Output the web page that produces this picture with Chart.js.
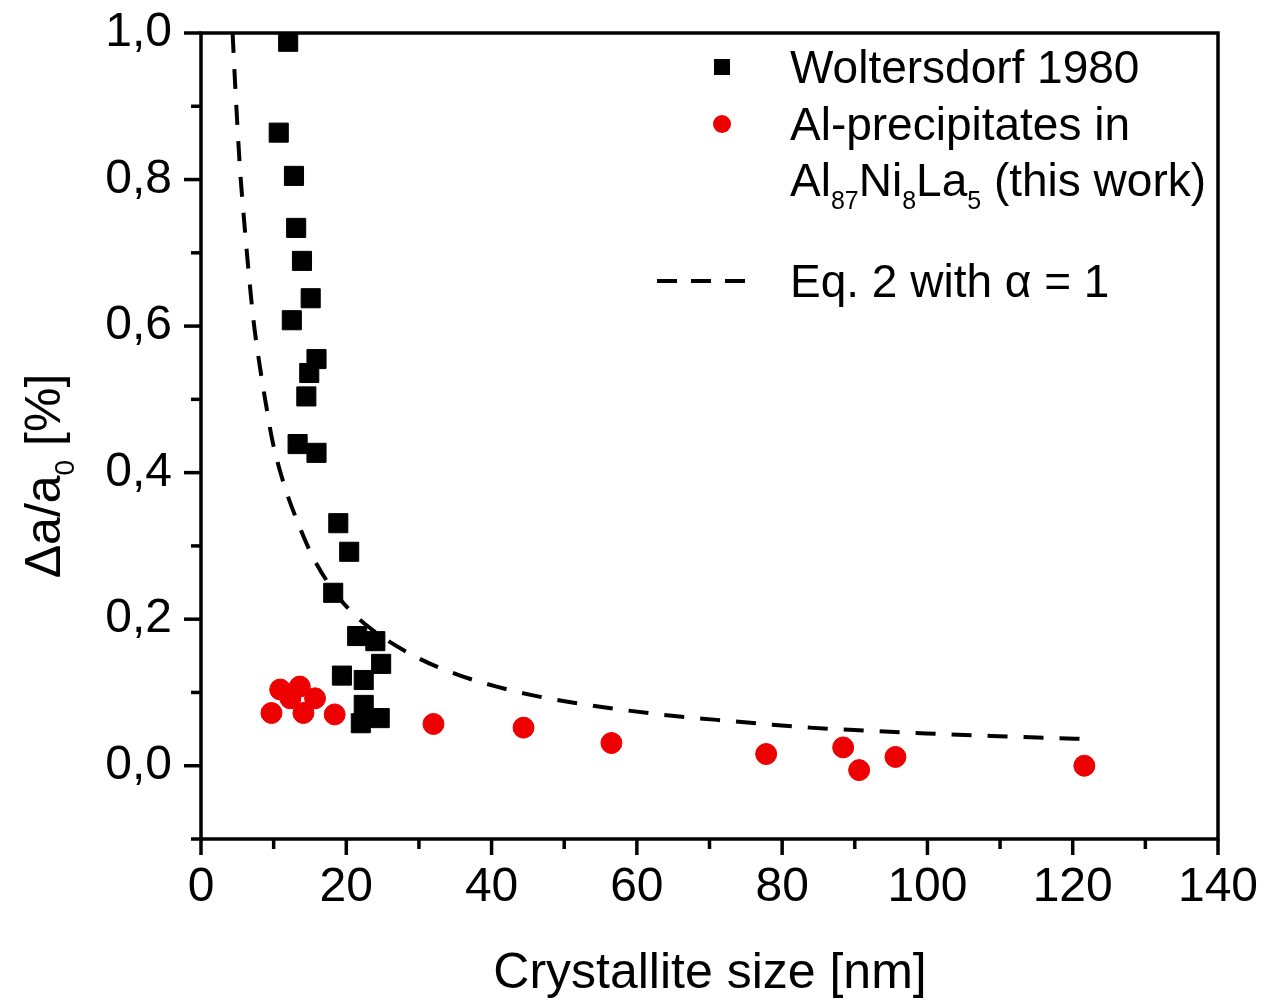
<!DOCTYPE html>
<html>
<head>
<meta charset="utf-8">
<script src="https://cdn.jsdelivr.net/npm/chart.js@4.4.1/dist/chart.umd.min.js"></script>
<style>
  html, body { margin: 0; padding: 0; background: #fff; }
  #wrap { width: 1267px; height: 1002px; position: relative; }
</style>
</head>
<body>
<div id="wrap"><canvas id="chart"></canvas></div>
<script>
// ── data ────────────────────────────────────────────────
const woltX = [12.0, 10.7, 12.8, 13.1, 13.9, 15.1, 12.5, 15.9, 14.9, 14.5, 13.3, 15.9, 18.9, 20.4, 18.2, 21.5, 24.0, 19.4, 22.4, 24.8, 22.4, 22.0, 24.6];
const woltY = [0.988, 0.864, 0.805, 0.734, 0.689, 0.638, 0.608, 0.555, 0.536, 0.504, 0.439, 0.427, 0.331, 0.292, 0.236, 0.177, 0.170, 0.123, 0.117, 0.139, 0.083, 0.058, 0.065];

const alX = [9.7, 10.9, 12.3, 13.6, 14.1, 15.7, 18.4, 32.0, 44.4, 56.5, 77.8, 88.4, 90.6, 95.6, 121.6];
const alY = [0.072, 0.104, 0.092, 0.108, 0.072, 0.092, 0.070, 0.057, 0.052, 0.031, 0.016, 0.025, -0.006, 0.012, 0.000];

const eqX = [4.35, 4.7, 5.4, 5.8, 6.5, 7.2, 8.1, 9.0, 9.8, 11.3, 13.2, 15.5, 19.1, 23.0, 29.7, 35.4, 40.7, 45.7, 51.3, 62.3, 72.8, 83.8, 89.3, 99.9, 110.9, 123.0];
const eqY = [1.0, 0.93, 0.81, 0.76, 0.68, 0.61, 0.545, 0.49, 0.445, 0.388, 0.335, 0.283, 0.228, 0.19, 0.148, 0.124, 0.108, 0.096, 0.086, 0.071, 0.061, 0.052, 0.049, 0.044, 0.040, 0.036];

const xMajorTicks = [0, 20, 40, 60, 80, 100, 120, 140];
const yTickLabels = ['0,0', '0,2', '0,4', '0,6', '0,8', '1,0'];

const FONT = '"Liberation Sans", Arial, Helvetica, sans-serif';
const RED = '#ee0000';

const toPts = (xs, ys) => xs.map((x, i) => ({x, y: ys[i]}));

// ── 枠・目盛・凡例・軸タイトル ───────────────────────────
const decorPlugin = {
  id: 'decor',
  afterDraw(chart) {
    const {ctx, chartArea: a, scales: {x, y}} = chart;
    ctx.save();
    ctx.strokeStyle = '#000';
    ctx.lineWidth = 3.5;
    ctx.lineCap = 'butt';

    // frame
    ctx.strokeRect(a.left, a.top, a.right - a.left, a.bottom - a.top);

    // x ticks (outward, below)
    for (let v = 0; v <= 140; v += 10) {
      const px = x.getPixelForValue(v);
      const len = v % 20 === 0 ? 16 : 10;
      ctx.beginPath();
      ctx.moveTo(px, a.bottom);
      ctx.lineTo(px, a.bottom + len);
      ctx.stroke();
    }
    // y ticks (outward, left)
    for (let i = -1; i <= 10; i++) {
      const py = y.getPixelForValue(i / 10);
      const len = i % 2 === 0 ? 17 : 10;
      ctx.beginPath();
      ctx.moveTo(a.left, py);
      ctx.lineTo(a.left - len, py);
      ctx.stroke();
    }

    // x axis title
    ctx.fillStyle = '#000';
    ctx.font = '50px ' + FONT;
    ctx.textAlign = 'center';
    ctx.textBaseline = 'alphabetic';
    ctx.fillText('Crystallite size [nm]', 710, 988);

    // y axis title (rotated, with subscript)
    ctx.save();
    ctx.translate(60, 476);
    ctx.rotate(-Math.PI / 2);
    drawRich(ctx, [['Δa/a', 0], ['0', 1], [' [%]', 0]], 0, 0, 50, 'center');
    ctx.restore();

    // legend
    const mx = 722, tx = 790;
    ctx.fillStyle = '#000';
    ctx.fillRect(mx - 8, 67 - 8, 16, 16);
    ctx.fillStyle = RED;
    ctx.beginPath();
    ctx.arc(mx, 124, 9, 0, Math.PI * 2);
    ctx.fill();
    ctx.strokeStyle = '#000';
    ctx.lineWidth = 4;
    ctx.setLineDash([20, 14]);
    ctx.beginPath();
    ctx.moveTo(657, 281);
    ctx.lineTo(755, 281);
    ctx.stroke();
    ctx.setLineDash([]);

    ctx.fillStyle = '#000';
    drawRich(ctx, [['Woltersdorf 1980', 0]], tx, 83, 46, 'left');
    drawRich(ctx, [['Al-precipitates in', 0]], tx, 140, 46, 'left');
    drawRich(ctx, [['Al', 0], ['87', 1], ['Ni', 0], ['8', 1], ['La', 0], ['5', 1], [' (this work)', 0]], tx, 196, 46, 'left');
    drawRich(ctx, [['Eq. 2 with α = 1', 0]], tx, 297, 46, 'left');

    ctx.restore();
  }
};

// parts: [text, isSub]
function drawRich(ctx, parts, x, y, size, align) {
  const subSize = Math.round(size * 0.55);
  const widthOf = p => {
    ctx.font = (p[1] ? subSize : size) + 'px ' + FONT;
    return ctx.measureText(p[0]).width;
  };
  const total = parts.reduce((s, p) => s + widthOf(p), 0);
  let cx = align === 'center' ? x - total / 2 : x;
  ctx.textAlign = 'left';
  ctx.textBaseline = 'alphabetic';
  parts.forEach(p => {
    ctx.font = (p[1] ? subSize : size) + 'px ' + FONT;
    ctx.fillText(p[0], cx, p[1] ? y + size * 0.28 : y);
    cx += ctx.measureText(p[0]).width;
  });
}

// ── チャート ─────────────────────────────────────────
new Chart(document.getElementById('chart'), {
  type: 'scatter',
  data: {
    datasets: [
      {
        label: 'Eq. 2 with α = 1',
        type: 'line',
        data: toPts(eqX, eqY),
        borderColor: '#000',
        borderWidth: 4,
        borderDash: [20, 16],
        pointRadius: 0,
        fill: false,
        cubicInterpolationMode: 'monotone',
        order: 3,
      },
      {
        label: 'Woltersdorf 1980',
        data: toPts(woltX, woltY),
        pointStyle: 'rect',
        pointRadius: 13.5,
        backgroundColor: '#000',
        borderColor: '#000',
        borderWidth: 1,
        order: 2,
      },
      {
        label: 'Al-precipitates',
        data: toPts(alX, alY),
        pointStyle: 'circle',
        pointRadius: 10.5,
        backgroundColor: RED,
        borderColor: RED,
        borderWidth: 1,
        order: 1,
      }
    ]
  },
  options: {
    responsive: true,
    maintainAspectRatio: false,
    animation: false,
    layout: { padding: { top: 33, right: 49, left: 0, bottom: 0 } },
    plugins: {
      legend: { display: false },
      tooltip: { enabled: false }
    },
    scales: {
      x: {
        type: 'linear',
        min: 0, max: 140,
        grid: { display: false, drawTicks: false },
        border: { display: false },
        afterFit: s => { s.height = 163; s.paddingRight = 0; s.paddingLeft = 0; },
        ticks: {
          stepSize: 10,
          autoSkip: false,
          maxRotation: 0,
          padding: 20,
          color: '#000',
          font: { family: FONT, size: 48 },
          callback: v => xMajorTicks.includes(v) ? String(v) : ''
        }
      },
      y: {
        type: 'linear',
        min: -0.1, max: 1.0,
        grid: { display: false, drawTicks: false },
        border: { display: false },
        afterFit: s => { s.width = 201; s.paddingTop = 0; s.paddingBottom = 0; },
        ticks: {
          stepSize: 0.1,
          autoSkip: false,
          padding: 29,
          color: '#000',
          font: { family: FONT, size: 48 },
          callback: v => {
            const k = Math.round(v * 10);
            return (k >= 0 && k % 2 === 0) ? yTickLabels[k / 2] : '';
          }
        }
      }
    }
  },
  plugins: [decorPlugin]
});
</script>
</body>
</html>
